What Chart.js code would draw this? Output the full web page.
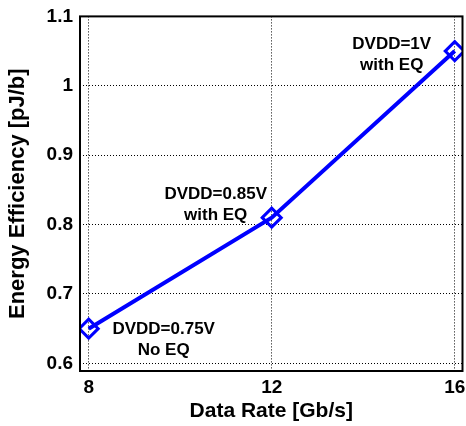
<!DOCTYPE html>
<html>
<head>
<meta charset="utf-8">
<script src="https://cdn.jsdelivr.net/npm/chart.js@4.4.1/dist/chart.umd.min.js"></script>
<style>
  html, body { margin: 0; padding: 0; background: #fff; overflow: hidden; }
  #frame { width: 466px; height: 426px; overflow: hidden; }
  /* a bit wider/taller than the frame so the "16" and "1.1" labels can sit on the edge */
  #wrap { width: 475px; height: 428px; margin-top: -2px; }
</style>
</head>
<body>
<div id="frame"><div id="wrap"><canvas id="effChart"></canvas></div></div>
<script>
// data
const dataRates = [8, 12, 16]
const efficiency = [0.65, 0.81, 1.05]
const pointNotes = [
  ["DVDD=0.75V", "No EQ"],
  ["DVDD=0.85V", "with EQ"],
  ["DVDD=1V", "with EQ"],
]
const xTicks = [8, 12, 16]
const yTicks = [0.6, 0.7, 0.8, 0.9, 1, 1.1]
const yTickLabels = ["0.6", "0.7", "0.8", "0.9", "1", "1.1"]

const FONT = "'Liberation Sans', Arial, sans-serif"

// box around the plot + the text next to each point
const boxAndNotes = {
  id: "boxAndNotes",
  afterDraw(chart) {
    const { ctx, chartArea: a, scales } = chart
    ctx.save()
    ctx.strokeStyle = "#000"
    ctx.lineWidth = 2
    ctx.strokeRect(a.left, a.top, a.right - a.left, a.bottom - a.top)

    ctx.fillStyle = "#000"
    ctx.font = "bold 17px " + FONT
    ctx.textAlign = "center"
    ctx.textBaseline = "middle"
    // offsets in px relative to the data point
    const offs = [[75, 1], [-56, -23], [-63, -7]]
    pointNotes.forEach((lines, i) => {
      const px = scales.x.getPixelForValue(dataRates[i]) + offs[i][0]
      const py = scales.y.getPixelForValue(efficiency[i]) + offs[i][1]
      lines.forEach((t, j) => ctx.fillText(t, px, py + j * 21))
    })
    ctx.restore()
  },
}

new Chart(document.getElementById("effChart"), {
  type: "line",
  data: {
    datasets: [
      {
        data: dataRates.map((x, i) => ({ x: x, y: efficiency[i] })),
        borderColor: "#0000ff",
        borderWidth: 4,
        pointStyle: "rectRot",
        pointRadius: 9.5,
        pointBorderWidth: 3,
        pointBackgroundColor: "rgba(0,0,0,0)",
        pointBorderColor: "#0000ff",
        tension: 0,
      },
    ],
  },
  options: {
    responsive: true,
    maintainAspectRatio: false,
    animation: false,
    layout: { padding: { top: 13, right: 0, left: 0, bottom: 0 } },
    plugins: {
      legend: { display: false },
      tooltip: { enabled: false },
    },
    scales: {
      x: {
        type: "linear",
        min: 7.81,
        max: 16.17,
        afterBuildTicks: (s) => { s.ticks = xTicks.map((v) => ({ value: v })) },
        afterFit: (s) => { s.height = 55 },
        grid: { color: "#000", lineWidth: 1, drawTicks: false },
        border: { display: false, dash: [1, 2] },
        ticks: {
          color: "#000",
          padding: 5,
          font: { family: FONT, size: 19, weight: "bold" },
          maxRotation: 0,
        },
        title: {
          display: true,
          text: "Data Rate [Gb/s]",
          color: "#000",
          padding: { top: 0, bottom: 2 },
          font: { family: FONT, size: 21, weight: "bold" },
        },
      },
      y: {
        type: "linear",
        min: 0.589,
        max: 1.1,
        afterBuildTicks: (s) => { s.ticks = yTicks.map((v) => ({ value: v })) },
        afterFit: (s) => { s.width = 80 },
        grid: { color: "#000", lineWidth: 1, drawTicks: false },
        border: { display: false, dash: [1, 2] },
        ticks: {
          color: "#000",
          padding: 7,
          font: { family: FONT, size: 19, weight: "bold" },
          callback: (v, i) => yTickLabels[i],
        },
        title: {
          display: true,
          text: "Energy Efficiency [pJ/b]",
          color: "#000",
          padding: { top: 5, bottom: 0 },
          font: { family: FONT, size: 22, weight: "bold" },
        },
      },
    },
  },
  plugins: [boxAndNotes],
})
</script>
</body>
</html>
